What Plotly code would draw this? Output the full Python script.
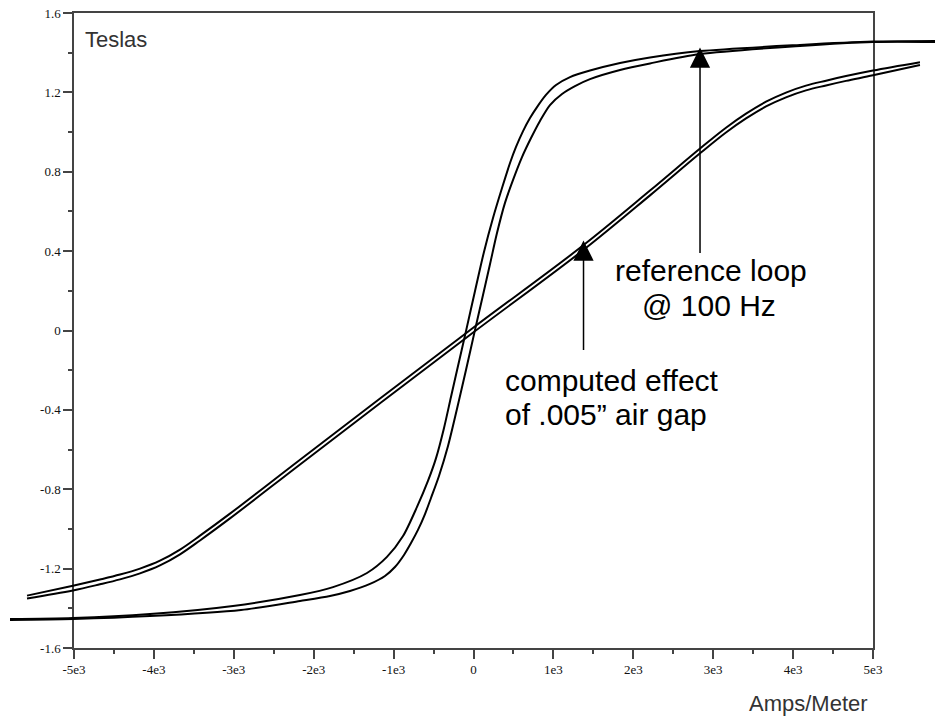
import plotly.graph_objects as go

# ---------------- data ----------------
# reference loop @ 100 Hz, descending branch (from +saturation to -saturation)
ref_desc_H = [5776, 5000, 4086, 2835, 2209, 1834, 1458, 1208, 1033, 907, 795, 707, 620, 532, 457,
              357, 244, 131, 19, -94, -194, -282, -369, -469, -570, -707, -882, -1083, -1333,
              -1758, -2172, -3010, -4049, -5013, -5801]
ref_desc_B = [1.459, 1.456, 1.439, 1.408, 1.376, 1.348, 1.310, 1.277, 1.237, 1.187, 1.126, 1.071, 1.005, 0.925, 0.844,
              0.718, 0.567, 0.396, 0.199, -0.003, -0.179, -0.335, -0.491, -0.643, -0.758, -0.889, -1.036, -1.141, -1.222,
              -1.293, -1.333, -1.388, -1.429, -1.449, -1.454]
# reference loop, ascending branch (from -saturation to +saturation)
ref_asc_H = [-5801, -5012, -4049, -2910, -2171, -1796, -1546, -1295, -1108, -983, -870, -782, -695, -607, -532,
             -432, -319, -207, -94, 19, 119, 207, 294, 394, 494, 607, 720, 832, 957, 1108, 1270, 1458,
             1834, 2209, 2835, 4086, 5000, 5776]
ref_asc_B = [-1.459, -1.454, -1.439, -1.408, -1.363, -1.338, -1.313, -1.277, -1.237, -1.192, -1.131, -1.071, -1.005, -0.925, -0.844,
             -0.733, -0.582, -0.396, -0.199, 0.003, 0.179, 0.335, 0.491, 0.643, 0.758, 0.874, 0.970, 1.056, 1.136, 1.192, 1.232, 1.267,
             1.313, 1.346, 1.393, 1.434, 1.454, 1.454]

# computed effect of .005" air gap, descending branch
gap_desc_H = [5588, 5000, 4662, 4412, 4161, 3911, 3661, 3411, 3160, 2835, 2209, 1370, 0, -1170, -2171, -3048,
              -3423, -3673, -3924, -4174, -4424, -4675, -5013, -5588]
gap_desc_B = [1.352, 1.310, 1.282, 1.259, 1.234, 1.199, 1.153, 1.093, 1.022, 0.917, 0.705, 0.428, 0.015, -0.343, -0.651, -0.923,
              -1.034, -1.104, -1.160, -1.200, -1.230, -1.255, -1.286, -1.336]
# air gap, ascending branch
gap_asc_H = [-5588, -5013, -4675, -4424, -4174, -3924, -3673, -3423, -3048, -2171, -1170, 0, 1370, 2209, 2835, 3160,
             3411, 3661, 3911, 4161, 4412, 4662, 5000, 5588]
gap_asc_B = [-1.350, -1.310, -1.279, -1.254, -1.224, -1.184, -1.128, -1.058, -0.947, -0.675, -0.367, -0.009, 0.404, 0.681, 0.893, 0.998,
             1.069, 1.129, 1.175, 1.210, 1.235, 1.258, 1.286, 1.338]

x_tickvals = [-5000, -4000, -3000, -2000, -1000, 0, 1000, 2000, 3000, 4000, 5000]
x_ticktext = ["-5e3", "-4e3", "-3e3", "-2e3", "-1e3", "0", "1e3", "2e3", "3e3", "4e3", "5e3"]
y_tickvals = [1.6, 1.2, 0.8, 0.4, 0, -0.4, -0.8, -1.2, -1.6]
y_ticktext = ["1.6", "1.2", "0.8", "0.4", "0", "-0.4", "-0.8", "-1.2", "-1.6"]

# arrows: (H, B of tip, B of tail)
ref_arrow = (2835, 1.426, 0.383)
gap_arrow = (1377, 0.454, -0.106)

# ---------------- layout geometry ----------------
W, Hpx = 935, 720
FX0, FX1 = 74, 873      # frame left/right pixel
FY0, FY1 = 13, 648      # frame top/bottom pixel
XR = [-5000, 5000]
YR = [-1.6, 1.6]
upx = (XR[1] - XR[0]) / (FX1 - FX0)
upy = (YR[1] - YR[0]) / (FY1 - FY0)
x2r = [XR[0] - FX0 * upx, XR[1] + (W - FX1) * upx]
y2r = [YR[0] - (Hpx - FY1) * upy, YR[1] + FY0 * upy]


def px(x):
    return x / W


def py(y):
    return 1 - y / Hpx


fig = go.Figure()

for hx, by, sm in ((ref_desc_H, ref_desc_B, 0.8), (ref_asc_H, ref_asc_B, 0.8),
                   (gap_desc_H, gap_desc_B, 1.0), (gap_asc_H, gap_asc_B, 1.0)):
    fig.add_trace(go.Scatter(x=hx, y=by, mode="lines",
                             line=dict(color="black", width=2, shape="spline", smoothing=sm),
                             xaxis="x2", yaxis="y2", hoverinfo="skip", showlegend=False))

axis_col = "#444"
tickfont = dict(family="Liberation Serif", size=13, color="#111")

fig.update_layout(
    width=W, height=Hpx,
    margin=dict(l=0, r=0, t=0, b=0, autoexpand=False),
    paper_bgcolor="white", plot_bgcolor="rgba(0,0,0,0)",
    showlegend=False,
    xaxis=dict(domain=[px(FX0), px(FX1)], range=XR, anchor="y",
               tickmode="array", tickvals=x_tickvals, ticktext=x_ticktext,
               ticks="outside", ticklen=9, tickwidth=1.5, tickcolor=axis_col,
               showline=True, linecolor=axis_col, linewidth=1.5, mirror=True,
               showgrid=False, zeroline=False, tickfont=tickfont, automargin=False,
               minor=dict(tickmode="linear", tick0=-5000, dtick=500, ticks="outside",
                          ticklen=4, tickwidth=1.5, tickcolor=axis_col, showgrid=False)),
    yaxis=dict(domain=[py(FY1), py(FY0)], range=YR, anchor="x",
               tickmode="array", tickvals=y_tickvals, ticktext=y_ticktext,
               ticks="outside", ticklen=9, tickwidth=1.5, tickcolor=axis_col,
               showline=True, linecolor=axis_col, linewidth=1.5, mirror=True,
               showgrid=False, zeroline=False, tickfont=tickfont, automargin=False,
               minor=dict(tickmode="linear", tick0=-1.6, dtick=0.2, ticks="outside",
                          ticklen=4, tickwidth=1.5, tickcolor=axis_col, showgrid=False)),
    xaxis2=dict(domain=[0, 1], range=x2r, anchor="y2", visible=False, fixedrange=True),
    yaxis2=dict(domain=[0, 1], range=y2r, anchor="x2", visible=False, fixedrange=True),
)

ann = []
# axis titles
ann.append(dict(text="Teslas", xref="paper", yref="paper", x=px(83), y=py(39),
                xanchor="left", yanchor="middle", showarrow=False,
                font=dict(family="Liberation Sans", size=22, color="#333")))
ann.append(dict(text="Amps/Meter", xref="paper", yref="paper", x=px(870), y=py(703),
                xanchor="right", yanchor="middle", showarrow=False,
                font=dict(family="Liberation Sans", size=22, color="#333")))
# text labels
big = dict(family="Liberation Sans", size=30, color="black")
ann.append(dict(text="reference loop", xref="paper", yref="paper", x=px(711), y=py(270),
                xanchor="center", yanchor="middle", showarrow=False, font=big))
ann.append(dict(text="@ 100 Hz", xref="paper", yref="paper", x=px(709), y=py(305),
                xanchor="center", yanchor="middle", showarrow=False, font=big))
ann.append(dict(text="computed effect", xref="paper", yref="paper", x=px(503), y=py(380),
                xanchor="left", yanchor="middle", showarrow=False, font=big))
ann.append(dict(text="of .005\u201d air gap", xref="paper", yref="paper", x=px(503), y=py(415),
                xanchor="left", yanchor="middle", showarrow=False, font=big))
# arrows
for (ah, ab, tb) in (ref_arrow, gap_arrow):
    ann.append(dict(text="", x=ah, y=ab, xref="x", yref="y", ax=ah, ay=tb, axref="x", ayref="y",
                    showarrow=True, arrowhead=2, arrowsize=2.7, arrowwidth=1.5,
                    arrowcolor="black", standoff=0))
fig.update_layout(annotations=ann)

fig.write_html("out.html")
